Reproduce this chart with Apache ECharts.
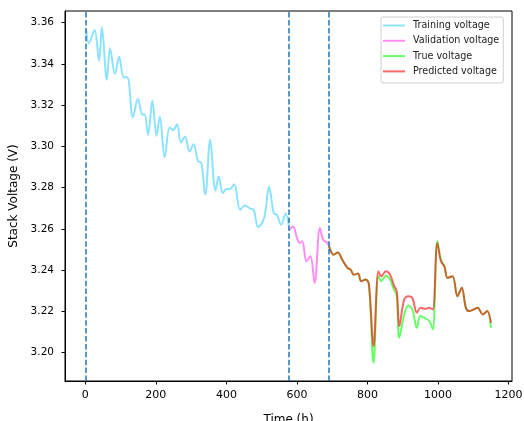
<!DOCTYPE html>
<html>
<head>
<meta charset="utf-8">
<script src="https://cdn.jsdelivr.net/npm/echarts@6/dist/echarts.min.js"></script>
<style>
  html, body { margin: 0; padding: 0; background: #fff; }
  #chart { width: 524px; height: 421px; }
</style>
</head>
<body>
<div id="chart"></div>
<script>
// time (h) / voltage (V)
const trainTime = [3, 10, 26, 39, 47, 61, 70, 84, 96, 109, 119, 135, 149, 162, 168, 178, 190, 202, 211, 225,
  239, 249, 260, 271, 283, 295, 307, 319, 329, 340, 354, 369, 378, 390, 401, 410, 422, 439, 453, 467,
  477, 490, 507, 521, 534, 543, 555, 568, 577];
const trainVolt = [3.3561, 3.3500, 3.3565, 3.3416, 3.3578, 3.3323, 3.3476, 3.3352, 3.3435, 3.3334, 3.3336,
  3.3142, 3.3231, 3.3153, 3.3156, 3.3056, 3.3221, 3.3051, 3.3145, 3.2948, 3.3092, 3.3080, 3.3108, 3.3019,
  3.3048, 3.2975, 3.3011, 3.2930, 3.2919, 3.2766, 3.3032, 3.2786, 3.2854, 3.2774, 3.2795, 3.2793, 3.2817,
  3.2693, 3.2714, 3.2698, 3.2693, 3.2609, 3.2653, 3.2806, 3.2677, 3.2669, 3.2620, 3.2674, 3.2612];

const valTime = [577, 589, 600, 608, 615, 627, 638, 650, 665, 674, 686, 691];
const valVolt = [3.2596, 3.2612, 3.2556, 3.2532, 3.2540, 3.2443, 3.2467, 3.2338, 3.2604, 3.2548, 3.2532, 3.2515];

const testTime = [691, 704, 716, 728, 743, 752, 761, 773, 782, 795, 804, 817, 831, 839, 852, 864, 875, 883,
  890, 904, 916, 927, 940, 950, 963, 976, 985, 998, 1008, 1018, 1027, 1041, 1055, 1067, 1079, 1088,
  1101, 1112, 1127, 1139, 1150];
const trueVolt = [3.2515, 3.2475, 3.2486, 3.2451, 3.2411, 3.2402, 3.2378, 3.2383, 3.2346, 3.2354, 3.2330,
  3.1951, 3.2370, 3.2346, 3.2373, 3.2354, 3.2306, 3.2273, 3.2072, 3.2185, 3.2228, 3.2209, 3.2120, 3.2177,
  3.2167, 3.2152, 3.2112, 3.2540, 3.2451, 3.2418, 3.2362, 3.2370, 3.2273, 3.2314, 3.2217, 3.2201, 3.2209,
  3.2217, 3.2185, 3.2201, 3.2120];
const predVolt = [3.2515, 3.2475, 3.2486, 3.2451, 3.2411, 3.2402, 3.2378, 3.2383, 3.2346, 3.2354, 3.2330,
  3.2031, 3.2394, 3.2370, 3.2394, 3.2378, 3.2325, 3.2297, 3.2128, 3.2257, 3.2273, 3.2265, 3.2193, 3.2217,
  3.2212, 3.2217, 3.2209, 3.2532, 3.2443, 3.2418, 3.2362, 3.2370, 3.2273, 3.2314, 3.2217, 3.2201, 3.2209,
  3.2217, 3.2185, 3.2201, 3.2144];

const splitTimes = [0, 576, 691];
const xTicks = [0, 200, 400, 600, 800, 1000, 1200];
const yTicks = [3.20, 3.22, 3.24, 3.26, 3.28, 3.30, 3.32, 3.34, 3.36];

const zip = (xs, ys) => xs.map((x, i) => [x, ys[i]]);
const font = 'DejaVu Sans';

const lineSeries = (name, xs, ys, color) => ({
  name,
  type: 'line',
  data: zip(xs, ys),
  smooth: 0.35,
  showSymbol: false,
  lineStyle: { color, width: 2 },
  itemStyle: { color },
});

const series = [
  lineSeries('Training voltage', trainTime, trainVolt, 'rgba(0,191,255,0.45)'),
  lineSeries('Validation voltage', valTime, valVolt, 'rgba(255,0,230,0.45)'),
  lineSeries('True voltage', testTime, trueVolt, 'rgba(0,255,0,0.6)'),
  lineSeries('Predicted voltage', testTime, predVolt, 'rgba(255,0,0,0.6)'),
];
series[0].markLine = {
  silent: true,
  symbol: 'none',
  label: { show: false },
  lineStyle: { color: '#1f77b4', type: [5.5, 2.4], width: 1.5 },
  data: splitTimes.map((t) => ({ xAxis: t })),
};

const chart = echarts.init(document.getElementById('chart'));
chart.setOption({
  animation: false,
  textStyle: { fontFamily: font },
  grid: {
    left: 65, top: 11, right: 12, bottom: 40,
    outerBoundsMode: 'none',
    containLabel: false,
    show: true, borderColor: '#000', borderWidth: 1,
  },
  legend: {
    orient: 'vertical',
    left: 381, top: 17,
    padding: [3, 4, 6, 2],
    backgroundColor: '#fff',
    borderColor: '#d0d0d0', borderWidth: 1, borderRadius: 2,
    icon: 'rect',
    itemWidth: 22, itemHeight: 2, itemGap: 4.3,
    textStyle: { fontFamily: font, fontSize: 9.6, color: '#222', lineHeight: 11, padding: [0, 0, 0, 3] },
    data: series.map((s) => s.name),
  },
  xAxis: {
    type: 'value',
    min: -57.6, max: 1209.6,
    name: 'Time (h)', nameLocation: 'middle', nameGap: 33,
    nameTextStyle: { fontFamily: font, fontSize: 12, color: '#000' },
    axisLine: { show: true, onZero: false, lineStyle: { color: '#000' } },
    axisTick: { show: true, customValues: xTicks, length: 3.5, lineStyle: { color: '#000' } },
    axisLabel: { customValues: xTicks, fontSize: 11, color: '#000', margin: 9, formatter: (v) => String(v) },
    splitLine: { show: false },
  },
  yAxis: {
    type: 'value',
    min: 3.1862, max: 3.3657,
    name: 'Stack Voltage (V)', nameLocation: 'middle', nameGap: 40,
    nameTextStyle: { fontFamily: font, fontSize: 12, color: '#000' },
    axisLine: { show: true, onZero: false, lineStyle: { color: '#000' } },
    axisTick: { show: true, customValues: yTicks, length: 3.5, lineStyle: { color: '#000' } },
    axisLabel: {
      customValues: yTicks, fontSize: 10.5, color: '#000', margin: 11,
      formatter: (v) => v.toFixed(2),
    },
    splitLine: { show: false },
  },
  series,
});
</script>
</body>
</html>
